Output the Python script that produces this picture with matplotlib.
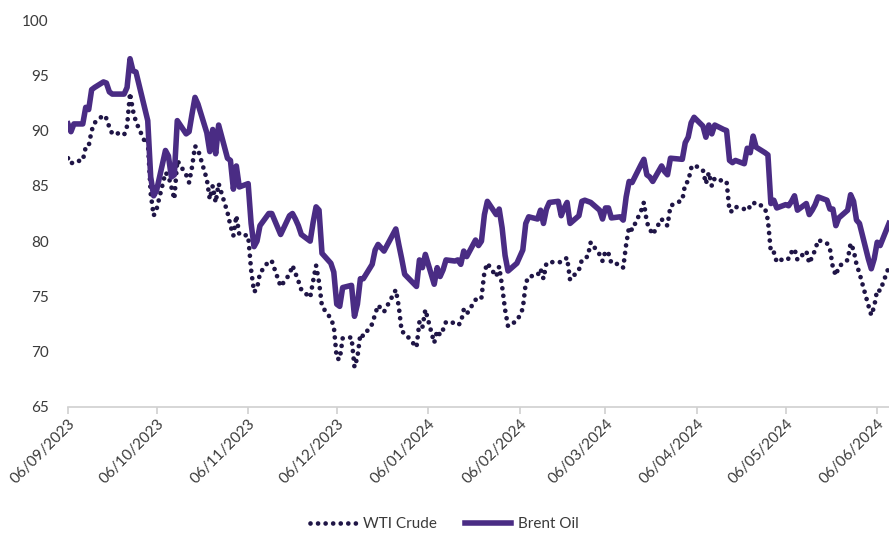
import numpy as np
import pandas as pd
import matplotlib

matplotlib.use('Agg')
import matplotlib.pyplot as plt
import matplotlib.dates as mdates

plt.rcParams['font.family'] = ['Lato', 'DejaVu Sans']

# trading days shown in the chart (a few days are absent from the source)
skip = ['2023-11-15', '2023-11-16', '2023-12-25', '2024-01-01', '2024-03-29']
dates = pd.bdate_range('2023-09-06', '2024-06-10')
dates = dates[~dates.isin(pd.to_datetime(skip))]

brent_sep = [90.6, 89.9, 90.6, 90.6, 92.1, 91.9, 93.7, 93.9, 94.4, 94.3, 93.5, 93.3, 93.3, 93.3, 93.9, 96.5, 95.4, 95.3]
brent_oct = [92.0, 90.9, 85.8, 84.1, 84.6, 88.2, 87.7, 85.8, 86.0, 90.9, 89.7, 89.9, 91.5, 93.0, 92.4, 89.8, 88.1, 90.1,
             87.9, 90.5, 87.5, 87.3]
brent_nov = [84.7, 86.8, 84.9, 85.2, 81.6, 79.5, 80.0, 81.4, 82.5, 82.5, 80.6, 82.3, 82.5, 82.0, 81.4, 80.6, 80.0, 81.7,
             83.1, 82.8]
brent_dec = [78.9, 78.0, 77.2, 74.3, 74.1, 75.8, 76.0, 73.2, 74.3, 76.6, 76.6, 77.9, 79.2, 79.7, 79.4, 79.1, 81.1, 79.7,
             78.4, 77.0]
brent_jan = [75.9, 78.3, 77.6, 78.8, 76.1, 77.6, 76.8, 77.4, 78.3, 78.2, 78.3, 77.9, 79.1, 78.6, 80.1, 79.6, 80.0, 82.4,
             83.6, 82.4, 82.9, 81.2]
brent_feb = [78.7, 77.3, 78.0, 78.6, 79.2, 81.6, 82.2, 82.0, 82.8, 81.6, 82.9, 83.5, 83.6, 82.3, 83.0, 83.5, 81.6, 82.3,
             83.6, 83.7, 83.6]
brent_mar = [83.5, 82.8, 82.0, 83.0, 83.0, 82.1, 82.2, 81.9, 84.0, 85.4, 85.3, 86.9, 87.4, 86.0, 85.8, 85.4, 86.8, 86.3,
             86.0, 87.5]
brent_apr = [87.4, 88.9, 89.4, 90.7, 91.2, 90.4, 89.4, 90.5, 89.7, 90.5, 90.1, 90.0, 87.3, 87.1, 87.3, 87.0, 88.4, 88.0,
             89.5, 88.5, 88.0, 87.8]
brent_may = [83.4, 83.7, 83.0, 83.3, 83.2, 83.6, 84.1, 82.8, 83.4, 82.4, 82.8, 83.3, 84.0, 83.7, 82.9, 82.9, 81.4, 82.1,
             82.8, 84.2, 83.6, 81.9, 81.6]
brent_jun = [78.4, 77.5, 78.4, 79.9, 79.6, 81.6]

wti_sep = [87.5, 87.0, 87.2, 87.3, 88.5, 88.6, 90.0, 90.7, 91.4, 91.1, 90.3, 89.7, 89.8, 89.6, 90.4, 93.4, 91.8, 90.8]
wti_oct = [89.0, 89.2, 84.3, 82.3, 82.9, 86.2, 85.9, 84.9, 83.8, 87.3, 86.0, 85.3, 86.7, 88.6, 88.3, 85.6, 83.8, 85.0,
           83.5, 85.2, 82.6, 81.4]
wti_nov = [80.5, 82.3, 80.6, 80.5, 77.4, 75.4, 75.7, 77.1, 78.2, 78.2, 75.9, 77.0, 77.8, 77.1, 76.4, 75.6, 74.9, 76.4,
           77.8, 76.3]
wti_dec = [74.1, 73.0, 72.3, 69.4, 69.3, 71.2, 71.3, 68.6, 69.5, 71.6, 71.4, 72.5, 73.4, 74.2, 73.9, 73.6, 75.6, 74.1,
           71.8, 71.7]
wti_jan = [70.4, 72.7, 72.2, 73.8, 70.8, 71.9, 71.5, 72.0, 72.7, 72.6, 72.4, 72.6, 73.8, 73.4, 74.7, 74.6, 74.9, 77.2,
           78.0, 76.8, 77.7, 75.9]
wti_feb = [73.8, 72.3, 72.8, 73.3, 73.9, 76.2, 76.8, 76.9, 77.5, 76.6, 78.0, 78.1, 78.1, 78.1, 78.3, 78.5, 76.5, 77.4,
           78.3, 78.5, 78.6]
wti_mar = [79.9, 78.8, 78.2, 79.1, 78.9, 78.0, 77.9, 77.6, 79.7, 81.3, 81.0, 82.7, 83.5, 81.7, 81.1, 80.6, 82.0, 81.6,
           81.4, 83.2]
wti_apr = [83.7, 85.2, 85.4, 86.6, 86.9, 86.4, 85.2, 86.2, 85.0, 85.7, 85.4, 85.4, 82.7, 82.7, 83.1, 82.9, 83.2, 83.0,
           83.4, 83.5, 83.0, 81.9]
wti_may = [79.0, 79.0, 78.1, 78.5, 78.4, 79.0, 79.3, 78.3, 79.1, 78.0, 78.6, 79.2, 80.1, 79.8, 79.3, 77.6, 76.9, 77.7,
           78.3, 79.8, 79.2, 77.9, 77.1]
wti_jun = [74.2, 73.3, 74.1, 75.6, 75.5, 77.7]

brent = (brent_sep + brent_oct + brent_nov + brent_dec + brent_jan + brent_feb + brent_mar + brent_apr + brent_may
         + brent_jun)
wti = wti_sep + wti_oct + wti_nov + wti_dec + wti_jan + wti_feb + wti_mar + wti_apr + wti_may + wti_jun

tick_dates = pd.date_range('2023-09-06', periods=10, freq=pd.DateOffset(months=1))

text_col = '#3a3a3a'
fig = plt.figure(figsize=(8.89, 5.35), dpi=100)
ax = fig.add_axes([0.0765, 0.2393, 0.9235, 0.7233])

ax.plot(dates, wti, color='#1f1546', linewidth=3.4, linestyle=(0, (0.001, 1.6)),
        dash_capstyle='round', label='WTI Crude')
ax.plot(dates, brent, color='#4a2c84', linewidth=4.0, solid_joinstyle='round', label='Brent Oil')

ax.set_ylim(65, 100)
ax.set_yticks(np.arange(65, 101, 5))
ax.set_xlim(pd.Timestamp('2023-09-06'), pd.Timestamp('2024-06-10'))
ax.set_xticks(tick_dates)
ax.xaxis.set_major_formatter(mdates.DateFormatter('%d/%m/%Y'))

for s in ['top', 'right', 'left']:
    ax.spines[s].set_visible(False)
ax.spines['bottom'].set_color('#d0d0d0')
ax.spines['bottom'].set_linewidth(1.2)
ax.tick_params(axis='y', length=0, labelsize=11, labelcolor=text_col, pad=14)
ax.tick_params(axis='x', length=5, color='#d0d0d0', width=1.2, labelsize=11, labelcolor=text_col, pad=2)
for lab in ax.get_xticklabels():
    lab.set_rotation(45)
    lab.set_ha('right')
    lab.set_rotation_mode('anchor')

fig.legend(loc='lower center', bbox_to_anchor=(0.5, -0.018), ncol=2, frameon=False, fontsize=11,
           handlelength=3.0, handletextpad=0.5, columnspacing=1.8, labelcolor=text_col)

plt.savefig('out.png', dpi=100)
